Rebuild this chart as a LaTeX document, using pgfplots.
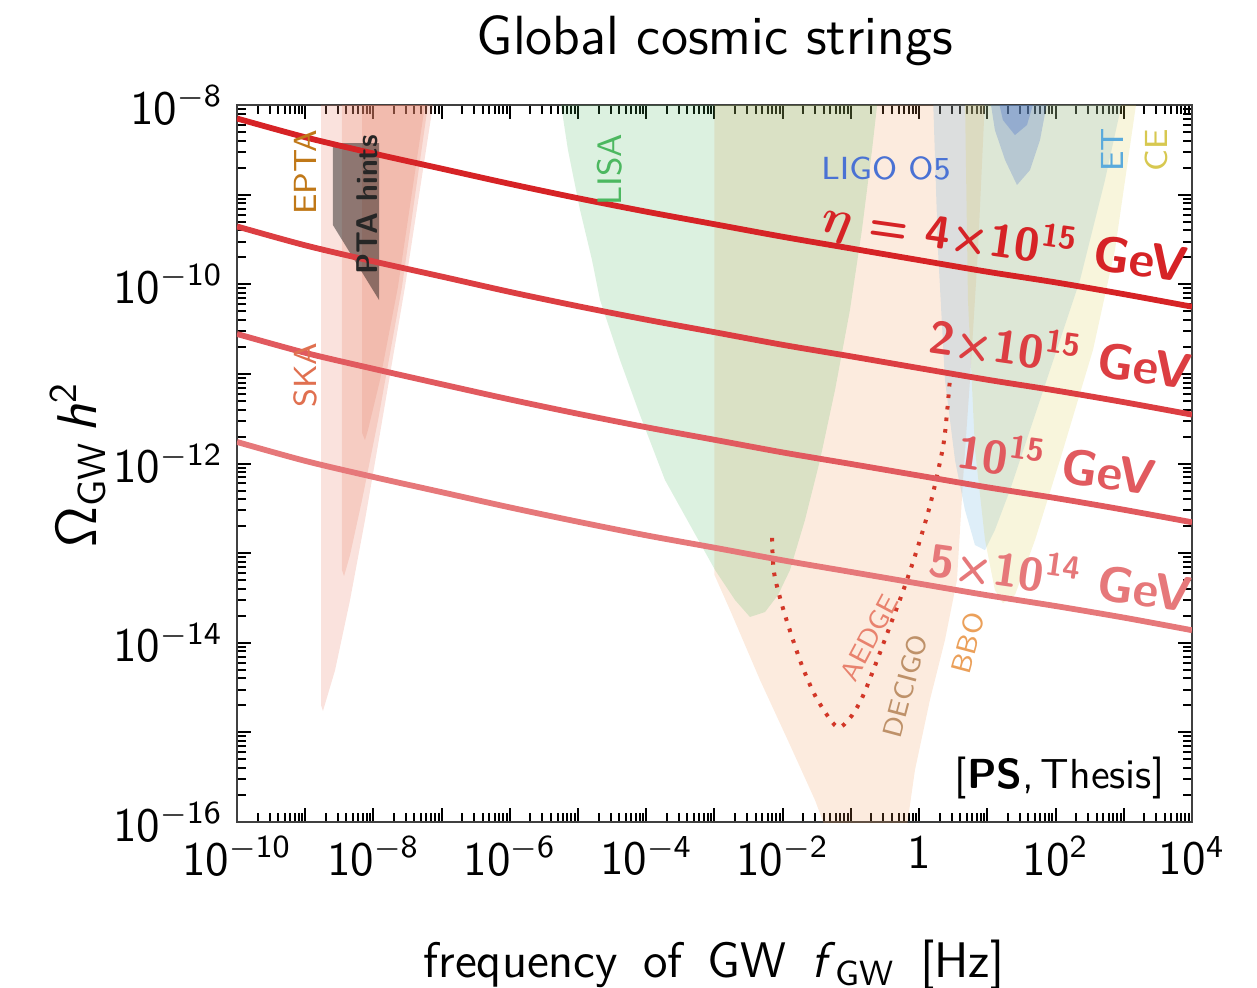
\documentclass[border=0pt]{standalone}
\usepackage{pgfplots}
\pgfplotsset{compat=1.18}
\usepackage{bm}
\renewcommand{\familydefault}{\sfdefault}
\definecolor{c1}{RGB}{214,35,38}
\definecolor{c2}{RGB}{220,62,66}
\definecolor{c3}{RGB}{225,90,95}
\definecolor{c4}{RGB}{230,120,122}
\definecolor{skac}{RGB}{232,130,106}
\definecolor{lisac}{RGB}{70,180,90}
\definecolor{decc}{RGB}{240,150,80}
\definecolor{etc}{RGB}{90,170,220}
\definecolor{cec}{RGB}{220,205,80}
\definecolor{ligoc}{RGB}{70,110,200}
\definecolor{aedgec}{RGB}{210,55,40}
\newcommand{\pw}[1]{10\textsuperscript{#1}}
\newcommand{\num}{\fontsize{11.5}{13}\selectfont}
\newcommand{\gev}{\fontsize{12.5}{14}\selectfont GeV}
\begin{document}
\begin{tikzpicture}
\path[use as bounding box] (-59.25pt,-41.5pt) rectangle (255pt,205.5pt);
\begin{axis}[
  at={(0pt,0pt)}, anchor=south west,
  scale only axis, width=238.75pt, height=179.25pt,
  xmode=log, ymode=log,
  xmin=1e-10, xmax=1e4, ymin=1e-16, ymax=1e-8,
  xtick={1e-10,1e-9,1e-8,1e-7,1e-6,1e-5,1e-4,1e-3,1e-2,1e-1,1,1e1,1e2,1e3,1e4},
  ytick={1e-16,1e-15,1e-14,1e-13,1e-12,1e-11,1e-10,1e-9,1e-8},
  minor xtick={2e-10,3e-10,4e-10,5e-10,6e-10,7e-10,8e-10,9e-10,2e-9,3e-9,4e-9,5e-9,6e-9,7e-9,8e-9,9e-9,2e-8,3e-8,4e-8,5e-8,6e-8,7e-8,8e-8,9e-8,2e-7,3e-7,4e-7,5e-7,6e-7,7e-7,8e-7,9e-7,2e-6,3e-6,4e-6,5e-6,6e-6,7e-6,8e-6,9e-6,2e-5,3e-5,4e-5,5e-5,6e-5,7e-5,8e-5,9e-5,2e-4,3e-4,4e-4,5e-4,6e-4,7e-4,8e-4,9e-4,2e-3,3e-3,4e-3,5e-3,6e-3,7e-3,8e-3,9e-3,2e-2,3e-2,4e-2,5e-2,6e-2,7e-2,8e-2,9e-2,0.2,0.3,0.4,0.5,0.6,0.7,0.8,0.9,2,3,4,5,6,7,8,9,20,30,40,50,60,70,80,90,200,300,400,500,600,700,800,900,2000,3000,4000,5000,6000,7000,8000,9000},
  minor ytick={2e-16,3e-16,4e-16,5e-16,6e-16,7e-16,8e-16,9e-16,2e-15,3e-15,4e-15,5e-15,6e-15,7e-15,8e-15,9e-15,2e-14,3e-14,4e-14,5e-14,6e-14,7e-14,8e-14,9e-14,2e-13,3e-13,4e-13,5e-13,6e-13,7e-13,8e-13,9e-13,2e-12,3e-12,4e-12,5e-12,6e-12,7e-12,8e-12,9e-12,2e-11,3e-11,4e-11,5e-11,6e-11,7e-11,8e-11,9e-11,2e-10,3e-10,4e-10,5e-10,6e-10,7e-10,8e-10,9e-10,2e-9,3e-9,4e-9,5e-9,6e-9,7e-9,8e-9,9e-9},
  xminorticks=true, yminorticks=true,
  xticklabels={\pw{$-$10},,\pw{$-$8},,\pw{$-$6},,\pw{$-$4},,\pw{$-$2},,1,,\pw{2},,\pw{4}},
  yticklabels={\pw{$-$16},,\pw{$-$14},,\pw{$-$12},,\pw{$-$10},,\pw{$-$8}},
  tick label style={font=\fontsize{12}{14}\selectfont},
  major tick length=3.5pt, minor tick length=2.2pt,
  every major tick/.append style={black, line width=0.5pt},
  every minor tick/.append style={black, line width=0.5pt},
  axis line style={line width=0.6pt, black!75},
  clip=true,
]
% PTA / SKA regions
\addplot[draw=none, fill=skac, fill opacity=0.23] coordinates {(1.71e-9,1.2e-8) (1.71e-9,2.0e-15) (1.82e-9,1.73e-15) (2.74e-9,4.94e-15) (4.54e-9,2.99e-14) (7.52e-9,2.33e-13) (1.25e-8,2.18e-12) (2.90e-8,9.31e-11) (7.46e-8,1.0e-8) (8.0e-8,1.2e-8)} --cycle;
\addplot[draw=none, fill=skac, fill opacity=0.23] coordinates {(3.46e-9,1.2e-8) (3.46e-9,6.5e-14) (3.71e-9,5.53e-14) (4.54e-9,9.51e-14) (6.81e-9,3.91e-13) (1.17e-8,3.05e-12) (2.62e-8,9.31e-11) (6.31e-8,1e-8) (6.8e-8,1.2e-8)} --cycle;
\addplot[draw=none, fill=skac, fill opacity=0.23] coordinates {(6.81e-9,1.2e-8) (6.81e-9,2.2e-12) (7.52e-9,1.82e-12) (8.32e-9,2.36e-12) (1.25e-8,8.53e-12) (2.29e-8,9.31e-11) (5.70e-8,1e-8) (6.2e-8,1.2e-8)} --cycle;
\addplot[draw=none, fill=black, fill opacity=0.42] coordinates {(2.55e-9,3.77e-9) (1.21e-8,3.77e-9) (1.21e-8,6.67e-11) (2.55e-9,4.58e-10)} --cycle;
% DECIGO / BBO
\addplot[draw=none, fill=decc, fill opacity=0.19] coordinates {(1.0e-3,1.2e-8) (1.0e-3,5.70e-14) (1.69e-3,2.32e-14) (4.65e-3,3.84e-15) (1.28e-2,7.23e-16) (2.97e-2,1.76e-16) (4.93e-2,6.3e-17) (0.621,6.3e-17) (0.869,3.80e-16) (1.44,2.30e-15) (2.39,1.07e-14) (3.59,5.01e-14) (4.40,6.55e-13) (5.57,8.55e-12) (7.30,2.41e-10) (9.25,1.2e-8)} --cycle;
% LISA
\addplot[draw=none, fill=lisac, fill opacity=0.19] coordinates {(5.43e-6,1.2e-8) (7.11e-6,3.15e-9) (1.07e-5,6.73e-10) (1.60e-5,1.87e-10) (2.10e-5,6.67e-11) (4.12e-5,1.43e-11) (8.09e-5,3.48e-12) (1.88e-4,6.55e-13) (4.38e-4,2.06e-13) (1.02e-3,6.48e-14) (2.00e-3,3.00e-14) (3.31e-3,1.94e-14) (5.50e-3,2.20e-14) (8.53e-3,3.41e-14) (1.28e-2,6.48e-14) (2.12e-2,2.34e-13) (3.52e-2,1.09e-12) (5.85e-2,6.61e-12) (9.68e-2,5.16e-11) (0.145,4.03e-10) (0.204,3.15e-9) (0.249,1.2e-8)} --cycle;
% ET
\addplot[draw=none, fill=etc, fill opacity=0.2] coordinates {(1.60,1.2e-8) (1.89,2.41e-10) (2.39,8.55e-12) (3.36,1.09e-12) (4.70,3.03e-13) (6.59,1.23e-13) (9.25,1.08e-13) (12.9,1.81e-13) (21.5,5.06e-13) (59.2,5.11e-12) (228,1.11e-10) (531,1.46e-9) (975,1.2e-8)} --cycle;
% CE
\addplot[draw=none, fill=cec, fill opacity=0.2] coordinates {(4.70,1.2e-8) (5.20,6.67e-11) (6.59,1.42e-12) (9.25,1.40e-13) (12.9,3.88e-14) (16.9,2.77e-14) (25.4,3.41e-14) (50.0,1.40e-13) (116,1.09e-12) (354,1.85e-11) (743,2.41e-10) (1563,1.2e-8)} --cycle;
% LIGO O5
\addplot[draw=none, fill=ligoc, fill opacity=0.25] coordinates {(10.9,1.2e-8) (12.9,5.26e-9) (18.2,2.43e-9) (27.2,1.28e-9) (42.2,1.88e-9) (59.2,4.07e-9) (77.4,1.2e-8)} --cycle;
\addplot[draw=none, fill=ligoc, fill opacity=0.3] coordinates {(14.3,1.2e-8) (16.9,6.8e-9) (25.4,4.62e-9) (38.1,5.98e-9) (50.0,1.2e-8)} --cycle;
% AEDGE
\addplot[aedgec, line width=1pt, dash pattern=on 0.9pt off 2.0pt, smooth] coordinates {(6.97e-3,1.48e-13) (7.45e-3,6.15e-14) (9.77e-3,2.64e-14) (1.37e-2,1.16e-14) (1.98e-2,5.22e-15) (3.18e-2,2.36e-15) (6.25e-2,1.15e-15) (9.68e-2,1.45e-15) (0.131,2.07e-15) (0.166,3.05e-15) (0.249,6.76e-15) (0.374,1.54e-14) (0.561,3.50e-14) (0.813,7.96e-14) (1.14,1.81e-13) (1.55,4.23e-13) (2.24,1.53e-12) (2.56,3.66e-12) (2.84,9.00e-12)};
% cosmic string spectra
\addplot[c1, line width=1.45pt, smooth] coordinates {(1e-10,7.08e-9) (1e-9,4.37e-9) (1e-8,2.88e-9) (1e-7,1.95e-9) (1e-6,1.32e-9) (1e-5,9.12e-10) (1e-4,6.46e-10) (1e-3,4.68e-10) (1e-2,3.39e-10) (1e-1,2.51e-10) (1,1.86e-10) (1e1,1.38e-10) (1e2,1.05e-10) (1e3,7.76e-11) (1e4,5.62e-11)};
\addplot[c2, line width=1.45pt, smooth] coordinates {(1e-10,4.42e-10) (1e-9,2.72e-10) (1e-8,1.80e-10) (1e-7,1.22e-10) (1e-6,8.22e-11) (1e-5,5.69e-11) (1e-4,4.03e-11) (1e-3,2.92e-11) (1e-2,2.11e-11) (1e-1,1.57e-11) (1,1.16e-11) (1e1,8.61e-12) (1e2,6.53e-12) (1e3,4.84e-12) (1e4,3.51e-12)};
\addplot[c3, line width=1.45pt, smooth] coordinates {(1e-10,2.79e-11) (1e-9,1.72e-11) (1e-8,1.14e-11) (1e-7,7.67e-12) (1e-6,5.19e-12) (1e-5,3.59e-12) (1e-4,2.54e-12) (1e-3,1.84e-12) (1e-2,1.33e-12) (1e-1,9.89e-13) (1,7.33e-13) (1e1,5.43e-13) (1e2,4.12e-13) (1e3,3.05e-13) (1e4,2.21e-13)};
\addplot[c4, line width=1.45pt, smooth] coordinates {(1e-10,1.74e-12) (1e-9,1.07e-12) (1e-8,7.08e-13) (1e-7,4.79e-13) (1e-6,3.24e-13) (1e-5,2.24e-13) (1e-4,1.58e-13) (1e-3,1.15e-13) (1e-2,8.32e-14) (1e-1,6.17e-14) (1,4.57e-14) (1e1,3.39e-14) (1e2,2.57e-14) (1e3,1.91e-14) (1e4,1.38e-14)};
\end{axis}
% detector labels
\node[rotate=90, text={rgb,255:red,192;green,120;blue,24}, font=\fontsize{8}{9}\selectfont] at (17pt,162.5pt) {EPTA};
\node[rotate=90, text={rgb,255:red,224;green,112;blue,80}, font=\fontsize{8}{9}\selectfont] at (17pt,111.75pt) {SKA};
\node[rotate=90, text=black!85, font=\bfseries\fontsize{7.5}{9}\selectfont] at (32.5pt,154.25pt) {PTA hints};
\node[rotate=90, text={rgb,255:red,76;green,184;blue,96}, font=\fontsize{8.5}{10}\selectfont] at (93.25pt,163pt) {LISA};
\node[text={rgb,255:red,74;green,114;blue,212}, font=\fontsize{8}{9}\selectfont] at (162.25pt,163.5pt) {LIGO O5};
\node[rotate=90, text={rgb,255:red,90;green,170;blue,220}, font=\fontsize{8}{9}\selectfont] at (218.75pt,168pt) {ET};
\node[rotate=90, text={rgb,255:red,215;green,200;blue,80}, font=\fontsize{8}{9}\selectfont] at (229.75pt,168pt) {CE};
\node[rotate=62, inner sep=0pt, text={rgb,255:red,232;green,130;blue,110}, font=\fontsize{6.8}{8}\selectfont] at (158pt,46pt) {AEDGE};
\node[rotate=75, inner sep=0pt, text={rgb,255:red,190;green,145;blue,105}, font=\fontsize{6.8}{8}\selectfont] at (167pt,34pt) {DECIGO};
\node[rotate=75, inner sep=0pt, text={rgb,255:red,235;green,160;blue,90}, font=\fontsize{7}{8}\selectfont] at (182.75pt,44.75pt) {BBO};
% line labels
\node[rotate=-8, text=c1, font=\bfseries] at (192pt,145pt) {\num$\bm{\eta}$ = 4\texttimes10\textsuperscript{15}\ \gev};
\node[rotate=-8, text=c2, font=\bfseries] at (206pt,117.5pt) {\num 2\texttimes10\textsuperscript{15}\ \gev};
\node[rotate=-8, text=c3, font=\bfseries] at (205pt,90pt) {\num 10\textsuperscript{15}\ \gev};
\node[rotate=-8, text=c4, font=\bfseries] at (206pt,61.75pt) {\num 5\texttimes10\textsuperscript{14}\ \gev};
\node[anchor=base east, inner sep=0pt, font=\fontsize{10.5}{12}\selectfont] at (232pt,8.5pt) {[\textbf{PS},\,Thesis]};
% title and axis labels
\node[anchor=base, font=\fontsize{13.8}{16}\selectfont] at (119.5pt,192pt) {Global cosmic strings};
\node[anchor=base, font=\fontsize{12.5}{15}\selectfont] at (119.25pt,-38.75pt) {frequency\enspace of\enspace GW\enspace \textit{f}\textsubscript{GW}\enspace [Hz]};
\node[rotate=90, anchor=base, font=\fontsize{14}{16}\selectfont] at (-35pt,89.25pt) {$\mathsf{\Omega}$\textsubscript{GW}\,\textit{h}\textsuperscript{2}};
\end{tikzpicture}
\end{document}
